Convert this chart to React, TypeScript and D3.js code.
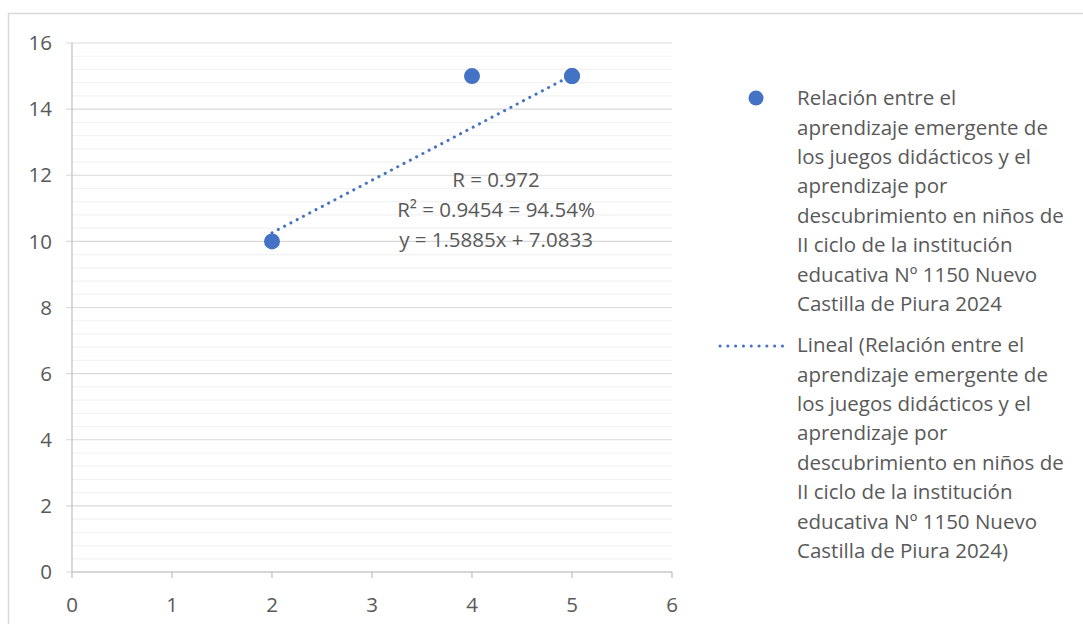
import React from "react";
import * as d3 from "d3";

const xTicks = [0, 1, 2, 3, 4, 5, 6];
const yTicks = [0, 2, 4, 6, 8, 10, 12, 14, 16];
const pointsX = [2, 4, 5, 5];
const pointsY = [10, 15, 15, 15];
const slope = 1.5885;
const intercept = 7.0833;
const trendRange = [2, 5];
const statLines = ["R = 0.972", "R² = 0.9454 = 94.54%", "y = 1.5885x + 7.0833"];
const seriesName = [
  "Relación entre el",
  "aprendizaje emergente de",
  "los juegos didácticos y el",
  "aprendizaje por",
  "descubrimiento en niños de",
  "II ciclo de la institución",
  "educativa Nº 1150 Nuevo",
  "Castilla de Piura 2024",
];
const trendName = [
  "Lineal (Relación entre el",
  "aprendizaje emergente de",
  "los juegos didácticos y el",
  "aprendizaje por",
  "descubrimiento en niños de",
  "II ciclo de la institución",
  "educativa Nº 1150 Nuevo",
  "Castilla de Piura 2024)",
];

const FONT = "'Open Sans', sans-serif";
const BLUE = "#4472C4";
const TXT = "#595959";

export default function App() {
  const x = d3.scaleLinear().domain([0, 6]).range([72, 672]);
  const y = d3.scaleLinear().domain([0, 16]).range([572, 43]);
  const minor = d3.range(0, 16.001, 0.4).filter((v) => Math.abs(v / 2 - Math.round(v / 2)) > 0.01);
  const line = d3.line<number>().x((v) => x(v)).y((v) => y(slope * v + intercept));
  const lineH = 29.4;
  return (
    <svg width={1083} height={624} style={{ position: "absolute", left: 0, top: 0 }}>
      <rect x={0} y={0} width={1083} height={624} fill="#fff" />
      <path d="M8.5,624 V13.5 H1083" fill="none" stroke="#d9d9d9" strokeWidth={1.5} />
      {minor.map((v, i) => (
        <line key={"m" + i} x1={x(0)} x2={x(6)} y1={y(v)} y2={y(v)} stroke="#f2f2f2" strokeWidth={1.2} />
      ))}
      {yTicks.map((v) => (
        <line key={"g" + v} x1={x(0) - 6} x2={x(6)} y1={y(v)} y2={y(v)} stroke="#d9d9d9" strokeWidth={1.2} />
      ))}
      <line x1={x(0)} x2={x(0)} y1={y(16)} y2={y(0)} stroke="#bfbfbf" strokeWidth={1.2} />
      <line x1={x(0)} x2={x(6)} y1={y(0)} y2={y(0)} stroke="#bfbfbf" strokeWidth={1.2} />
      {xTicks.map((v) => (
        <line key={"t" + v} x1={x(v)} x2={x(v)} y1={y(0)} y2={y(0) + 6} stroke="#bfbfbf" strokeWidth={1.2} />
      ))}
      {yTicks.map((v) => (
        <text key={"yl" + v} x={52} y={y(v)} dy="0.35em" textAnchor="end" fontFamily={FONT} fontSize={20.5} fill={TXT}>
          {v}
        </text>
      ))}
      {xTicks.map((v) => (
        <text key={"xl" + v} x={x(v)} y={605} dy="0.35em" textAnchor="middle" fontFamily={FONT} fontSize={20.5} fill={TXT}>
          {v}
        </text>
      ))}
      <path d={line(trendRange) || ""} fill="none" stroke={BLUE} strokeWidth={3} strokeDasharray="0.1 7" strokeLinecap="round" />
      {pointsX.map((v, i) => (
        <circle key={"p" + i} cx={x(v)} cy={y(pointsY[i])} r={8} fill={BLUE} />
      ))}
      {statLines.map((s, i) => (
        <text key={"s" + i} x={496} y={180 + i * 30} dy="0.35em" textAnchor="middle" fontFamily={FONT} fontSize={20.5} fill={TXT}>
          {s}
        </text>
      ))}
      <circle cx={756} cy={98} r={7.5} fill={BLUE} />
      {seriesName.map((s, i) => (
        <text key={"l1" + i} x={797} y={98 + i * lineH} dy="0.35em" fontFamily={FONT} fontSize={20.5} fill={TXT}>
          {s}
        </text>
      ))}
      <line x1={720} x2={790} y1={346} y2={346} stroke={BLUE} strokeWidth={3} strokeDasharray="0.1 7.7" strokeLinecap="round" />
      {trendName.map((s, i) => (
        <text key={"l2" + i} x={797} y={345 + i * lineH} dy="0.35em" fontFamily={FONT} fontSize={20.5} fill={TXT}>
          {s}
        </text>
      ))}
    </svg>
  );
}
